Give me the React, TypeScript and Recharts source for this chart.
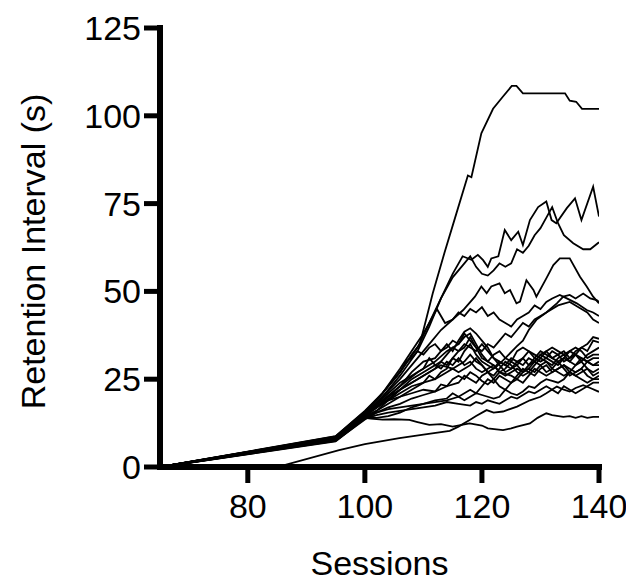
import React from "react";
import { LineChart, Line, XAxis, YAxis } from "recharts";

type Pt = [number, number];

const xTicks = [80, 100, 120, 140];
const yTicks = [0, 25, 50, 75, 100, 125];

const line01: Pt[] = [[65,0],[95,8.5],[100,15.5],[103,21],[106,27],[108,32],[109.4,35],[111.6,49.5],[113.6,61],[115.6,72],[117.6,83],[118.2,82.5],[119.9,95],[121.9,102],[123.6,105.5],[125.1,108.5],[125.9,108.5],[127,106.4],[134.2,106.4],[135,104.3],[136.1,104],[137.1,102],[140,102]];
const line02: Pt[] = [[65,0],[95,8],[100,15],[103,20],[106,26],[109,33],[111,40],[113,48],[115,55],[116.7,60],[118.2,59],[119.3,60.4],[120.2,58.9],[121,57],[121.6,59.4],[122.8,60],[123.9,67.5],[125,64.6],[126.2,67],[127,63.2],[128.2,70.3],[129.6,74],[131,75.6],[131.9,70.3],[132.7,69.4],[134.5,73.7],[135.9,76.5],[137,70.3],[139,79.8],[140,71.3]];
const line03: Pt[] = [[65,0],[95,8.8],[100,16],[103,21],[106,27],[109,34],[111,41],[113,48],[115,54],[117,58],[118,60],[119,57],[120,55],[121,54.5],[122,56],[123,58],[124,57],[125,58],[126,62],[127,61],[128,63],[129,66],[130,68],[131,71],[132,74],[133,69.4],[134,66],[135.6,63.7],[137.3,62],[138.5,62],[140,64]];
const line04: Pt[] = [[65,0],[95,8.2],[100,15],[103,20],[106,25],[109,31],[111,35],[113,39],[115,42],[116.8,44.7],[118.8,48.5],[119.9,51.4],[120.8,49.5],[121.6,51.4],[123,52.3],[123.9,49.5],[124.8,50.4],[125.9,46.6],[126.5,47.1],[127.6,53.2],[128.8,50.4],[129.3,48.5],[131,53.7],[132.2,57.5],[133.3,59.4],[135,59.4],[136.75,54.2],[137.9,51.4],[139,48.5],[140,46.6]];
const line05: Pt[] = [[65,0],[95,8.6],[100,15.5],[103,21],[106,28],[108,33],[110,38],[111,41],[112.3,45],[113.7,41],[115,42],[116,44],[117,43],[118,45],[119,44],[120,45.5],[121,43],[122,44],[123,42],[124,41],[125,40],[126,42],[127,43],[128,44],[129,46],[130,45],[131,47],[132,48],[133.3,49],[134.5,48],[136.2,46.6],[137.9,44.7],[139,44],[140,43]];
const line06: Pt[] = [[65,0],[95,8],[100,14.5],[103,18],[106,22],[109,25],[111,27],[113,29],[115,28],[117,30],[118,32],[119,30],[120,29],[121,27],[122.5,28.6],[124,31],[125.9,34.3],[127,36],[128,39],[129.3,41.9],[131,44],[132.8,46.6],[133.9,48.5],[135,49],[136,48],[137.3,49.4],[138.5,48],[139.6,47.5],[140,47]];
const line07: Pt[] = [[65,0],[95,7.8],[100,15],[103,19],[106,23],[109,27],[112,30],[114,33],[116,35],[117,38],[118,36],[119,34],[120,33],[121,35],[122,34],[123,36],[124,38],[125,37],[126,39],[127,41],[128,40],[129,42],[130,43],[131,44],[132,45],[133,46],[134,46.5],[135,47],[136,46],[137,45],[138,44],[139,42],[140,41]];
const line08: Pt[] = [[65,0],[95,8.4],[100,15],[102,17],[104,20],[106,23],[108,27],[110,30],[112,31],[113,33],[114,35],[115,33],[116,36],[117,38.5],[118,39.5],[119,38],[120,36],[121,34],[122,31],[123,30],[124,29],[125,31],[126,30],[127,29],[128,31],[129,30],[130,32],[131,31],[132,30],[133,29],[134,31],[135,30],[136,32],[137,34],[138,35],[139,37],[140,36.5]];
const line09: Pt[] = [[65,0],[95,8.1],[100,14.5],[102,16],[104,18],[106,20],[108,22],[110,24],[111,26],[112,25],[113,27],[114,28],[115,31],[116,33],[117,34],[118,37],[119,34],[120,31],[121,30],[122,32],[123,33],[124,31],[125,30],[126,33],[127,34],[128,33],[129,31],[130,30],[131,31],[132,33],[133,32],[134,30],[135,31],[136,33],[137,34],[138,33],[139,36],[140,35.5]];
const line10: Pt[] = [[65,0],[95,7.6],[100,14],[102,16],[104,19],[106,22],[108,24],[110,26],[112,28],[113,30],[114,29],[115,31],[116,30],[117,33],[118,35],[119,32],[120,30],[121,29],[122,28],[123,30],[124,29],[125,28],[126,30],[127,31],[128,29],[129,30],[130,32],[131,33],[132,31],[133,32],[134,33],[135,31],[136,32],[137,30],[138,32],[139,33],[140,34]];
const line11: Pt[] = [[65,0],[95,7.9],[100,15],[102,17],[104,20],[106,22],[108,25],[110,27],[112,29],[113,28],[114,30],[115,29],[116,31],[117,29],[118,30],[119,28],[120,27],[121,28],[122,29],[123,27],[124,26],[125,27],[126,28],[127,27],[128,29],[129,31],[130,33],[131,32],[132,31],[133,30],[134,31],[135,33],[136,32],[137,31],[138,30],[139,31],[140,31]];
const line12: Pt[] = [[65,0],[95,8.3],[100,14.5],[102,17],[104,19],[106,21],[108,23],[110,24],[112,25],[114,27],[115,28],[116,27],[117,28],[118,29],[119,31],[120,29],[121,27],[122,26],[123,28],[124,30],[125,29],[126,27],[127,26],[128,27],[129,26],[130,28],[131,29],[132,27],[133,28],[134,29],[135,28],[136,27],[137,28],[138,30],[139,29],[140,29]];
const line13: Pt[] = [[65,0],[95,7.4],[100,13.5],[102,15.5],[104,17],[106,18],[108,19.5],[110,20.5],[112,21.5],[113,23.5],[114,23],[115,25],[116,26],[117,25],[118,27],[119,26],[120,24.5],[121,23.5],[122,25],[123,27],[124,26.5],[125,26],[126,25],[127,27],[128,28],[129,27],[130,29],[131,30],[132,28],[133,27],[134,26],[135,27],[136,29],[137,30],[138,28],[139,27],[140,28]];
const line14: Pt[] = [[65,0],[95,8],[100,15],[102,17.5],[104,19],[106,20],[108,21],[110,22],[112,21.5],[114,23],[116,24],[117,26],[118,25],[119,24],[120,26],[121,27],[122,25],[123,23],[124,22],[125,24],[126,25],[127,24],[128,26],[129,28],[130,27],[131,26],[132,27],[133,28],[134,29],[135,27],[136,26],[137,27],[138,28],[139,26],[140,27]];
const line15: Pt[] = [[65,0],[95,7.7],[100,14],[102,15.5],[104,16.5],[106,17],[108,17.5],[110,18],[112,19],[114,19.5],[115,21],[116,20],[117,19],[118,20],[119,21],[120,20.5],[121,20],[122,19.5],[123,20],[124,22],[125,21],[126,20.5],[127,21.5],[128,23],[129,22.5],[130,24],[131,25],[132,24.5],[133,24],[134,25],[135,27],[136,26],[137,25],[138,24],[139,25],[140,25]];
const line16: Pt[] = [[65,0],[85,0],[95.6,4.8],[100,6.5],[105.9,8.2],[110,9.2],[114.5,10.3],[116,11.5],[117.9,13.4],[119,14.5],[120.8,16.2],[122,15.5],[123.6,15.8],[126,17.2],[128.2,19],[130,20],[131,21],[132.8,22.9],[134,22],[135,21.5],[136,22.5],[137.3,23.3],[138.5,22.5],[140,21.4]];
const line17: Pt[] = [[65,0],[95,7.5],[100,14],[101,13.8],[103,13.5],[105,13.6],[107.6,13.4],[109,12.8],[111,12],[113,12.2],[115,11.5],[117.9,12.4],[120,11.8],[121,11],[123.6,10.5],[125,11],[126,11.5],[128.2,12.4],[129.5,14],[131,15.3],[132,14.8],[133.9,14.3],[135,14.5],[136,14],[137,14.5],[138,14],[139,14.3],[140,14.3]];
const line18: Pt[] = [[65,0],[95,8.2],[100,15.5],[102,18],[104,21],[106,24],[108,26],[110,28],[111,31],[112,29],[113,30],[114,32],[115,34],[116,33],[117,35],[118,34],[119,33],[120,35],[121,33],[122,31],[123,29],[124,27],[125,28],[126,29],[127,31],[128,33],[129,32],[130,31],[131,33],[132,34],[133,33],[134,32],[135,33],[136,34],[137,33],[138,31],[139,32],[140,32]];
const line19: Pt[] = [[65,0],[95,7.3],[100,13.8],[102,14.8],[104,15.5],[106,16],[108,16.5],[110,17],[112,17.5],[114,18.5],[116,18],[118,17.5],[119,18.5],[120,18],[121,19],[122,18.5],[123,18],[124,19],[125,20],[126,19.5],[127,20.5],[128,21.5],[129,21],[130,22],[131,23],[132,22],[133,21],[134,23],[135,22],[136,21],[137,22],[138,23],[139,24],[140,24]];
const line20: Pt[] = [[65,0],[95,7.9],[100,14.2],[102,14],[104,14.5],[106,15.5],[108,17],[110,18],[112,18.5],[114,19],[116,20],[118,22],[119,21],[120,23],[121,25],[122,24],[123,26],[124,25],[125,24],[126,26],[127,28],[128,27],[129,29],[130,31],[131,30],[132,29],[133,31],[134,32],[135,30],[136,29],[137,31],[138,30],[139,29],[140,30]];
const line21: Pt[] = [[65,0],[95,8.7],[100,15.8],[102,19],[104,23],[106,27],[107,30],[108,31],[109,33],[110,32],[111,34],[112,35],[113,33],[114,34],[115,36],[116,35],[117,37],[118,38],[119,35],[120,32],[121,30],[122,29],[123,27],[124,28],[125,30],[126,29],[127,27],[128,28],[129,30],[130,29],[131,27],[132,28],[133,30],[134,28],[135,26],[136,27],[137,28],[138,26],[139,25],[140,26]];

const allLines: Pt[][] = [line01, line02, line03, line04, line05, line06, line07, line08, line09, line10, line11, line12, line13, line14, line15, line16, line17, line18, line19, line20, line21];
const series = allLines.map((pts) => pts.map(([s, v]) => ({ s, v })));

const FONT = "'Liberation Sans', Arial, Helvetica, sans-serif";

const XLabel = (props: any) => {
  const vb = props.viewBox || {};
  return (
    <text x={vb.x + vb.width / 2} y={vb.y + vb.height - 6} textAnchor="middle" fontSize={34} fontFamily={FONT} fill="#000">
      Sessions
    </text>
  );
};

const YLabel = (props: any) => {
  const vb = props.viewBox || {};
  const cx = 37;
  const cy = vb.y + vb.height / 2 + 4;
  return (
    <text x={cx} y={cy} transform={`rotate(-90 ${cx} ${cy})`} textAnchor="middle" fontSize={34} fontFamily={FONT} fill="#000">
      Retention Interval (s)
    </text>
  );
};

export default function App() {
  return (
    <div style={{ width: 626, height: 573 }}>
      <LineChart width={626} height={573} margin={{ top: 20, right: 35, bottom: 0, left: 0 }}>
        <XAxis
          type="number"
          dataKey="s"
          domain={[65, 140]}
          ticks={xTicks}
          allowDataOverflow
          height={114}
          tickSize={16}
          tickMargin={11}
          axisLine={{ stroke: "#000", strokeWidth: 6, strokeLinecap: "square" }}
          tickLine={{ stroke: "#000", strokeWidth: 5 }}
          tick={{ fill: "#000", fontSize: 34, fontFamily: FONT }}
          label={{ content: XLabel }}
        />
        <YAxis
          type="number"
          domain={[0, 125]}
          ticks={yTicks}
          width={152}
          tickSize={16}
          tickMargin={3}
          axisLine={{ stroke: "#000", strokeWidth: 6, strokeLinecap: "square" }}
          tickLine={{ stroke: "#000", strokeWidth: 5 }}
          tick={{ fill: "#000", fontSize: 34, fontFamily: FONT }}
          label={{ content: YLabel }}
        />
        {series.map((d, i) => (
          <Line
            key={i}
            data={d}
            dataKey="v"
            type="linear"
            stroke="#000"
            strokeWidth={1.8}
            dot={false}
            activeDot={false}
            isAnimationActive={false}
          />
        ))}
      </LineChart>
    </div>
  );
}
